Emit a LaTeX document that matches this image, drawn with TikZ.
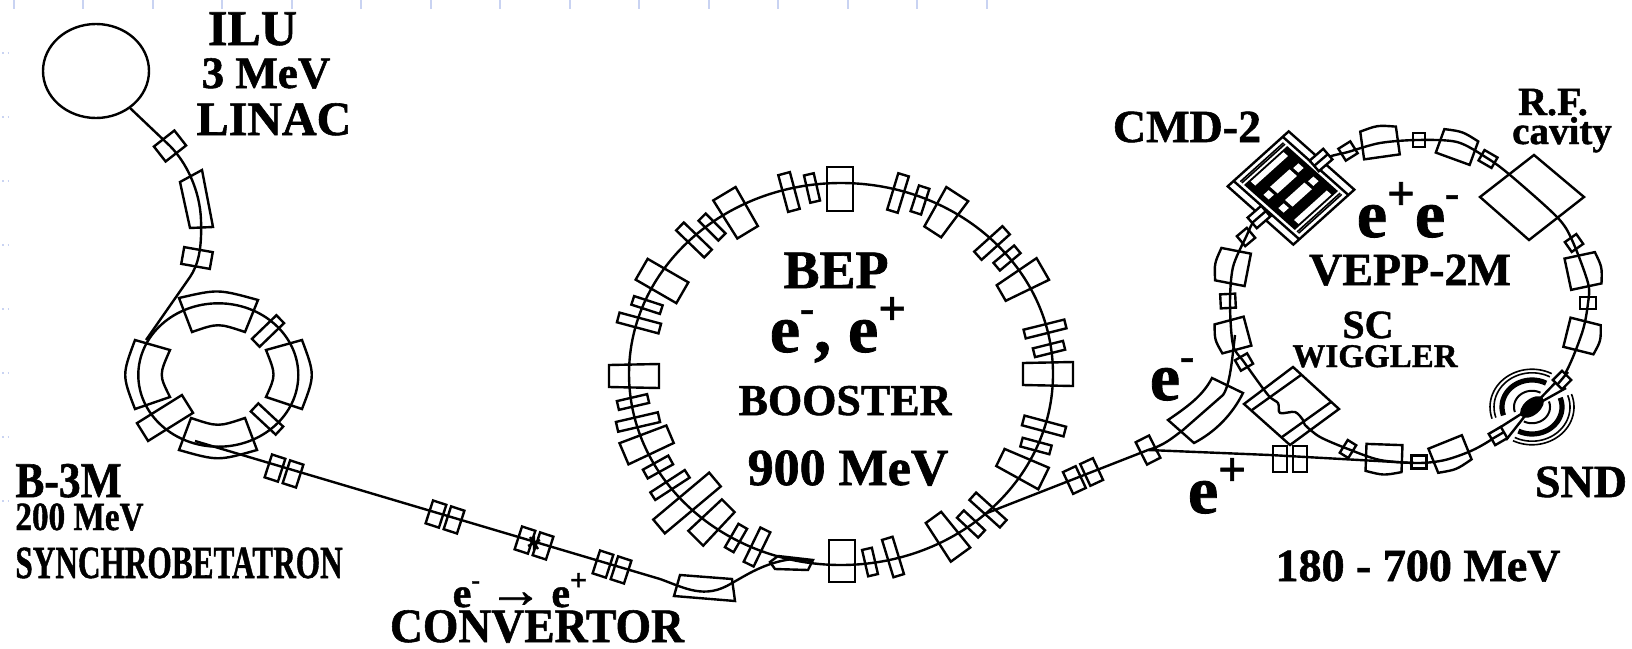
\documentclass[tikz,border=0pt]{standalone}
\usepackage{fontspec}
\setmainfont{Liberation Serif}[BoldFeatures={FakeBold=1.2}]
\usetikzlibrary{calc}
\definecolor{ticks}{HTML}{C9D3F2}
\newcommand\eminus{e\raisebox{.44em}{\scalebox{.62}{-}}}
\newcommand\eplus{e\raisebox{.4em}{\scalebox{.72}{+}}}
\tikzset{lab/.style={anchor=base,inner sep=0pt,font=\fontsize{#1}{#1}\selectfont\bfseries},
 beam/.style={line width=1.2pt,line join=round},
 magnet/.style={line width=1.2pt,line join=miter}}
\begin{document}
\begin{tikzpicture}[x=.5pt,y=-.5pt]
 \useasboundingbox(0,0)rectangle(1632,648);
 \foreach \tx in {14,83,153,222,292,361,431,500,570,639,709,778,848,917,987}\draw[ticks,line width=.6pt](\tx,0)--(\tx,9);
 \foreach \ty in {53,117,181,245,309,373,437,501}\draw[ticks,line width=.8pt,dotted](2,\ty)--(8,\ty);
 \draw[beam](96,71)ellipse[x radius=53,y radius=47];
 \draw[beam](130,108)--(170,146)..controls(186,162)and(200,190)..(201,220)..controls(202,250)and(198,265)..(190,277)--(153,330)--(146,340);
 \draw[magnet](180,182)--(202,170)--(213,227)--(190,228)--cycle;
 \draw[beam](218.3,375)ellipse[x radius=80,y radius=71.7];
 \draw[magnet](179,298)..controls(218,289)..(258,300)--(245,332)..controls(218,323)..(192,332)--cycle;
 \draw[magnet](179,450)..controls(218,461)..(257,450)--(245,418)..controls(218,427)..(191,418)--cycle;
 \draw[magnet](135,340)..controls(122,375)..(135,409)--(170,397)..controls(159,375)..(170,350)--cycle;
 \draw[magnet](302,340)..controls(315,375)..(302,409)--(266,397)..controls(276,375)..(266,350)--cycle;
 \foreach \px/\py/\rot/\wid/\hei in {170/146/128/19/26,197/258/-10/29/17,268/331/-46/11/34,267/419/47/11/34,165/418/-58/21/53}
  \draw[magnet,shift={(\px,\py)},rotate=\rot](-\wid/2,-\hei/2)rectangle(\wid/2,\hei/2);
 \draw[beam](195,441)--(660,579)..controls(685,588)and(705,600)..(732,583)..controls(745,576)and(765,562)..(793,559)--(812,561);
 \foreach \px/\py/\rot in {284/471/-18,445/517/-18,534/543/-18,612/567/-18,1083/476/25}
  \foreach \sgn in {-1,1}\draw[magnet,shift={(\px,\py)},rotate=\rot](\sgn*9.5-7,-12)rectangle(\sgn*9.5+7,12);
 \draw[magnet](530,537)--(538,549)(528,546)--(540,540)(534,536)--(534,550);
 \draw[magnet](680,575)--(732,579)--(735,601)--(674,596)--cycle;
 \draw[magnet](770,562)--(778,556)--(813,560)--(808,570)--(775,569)--cycle;
 \draw[beam](841,374)ellipse[x radius=212,y radius=191];
 \foreach \px/\py/\rot/\wid/\hei in {812/188/13/10/28,789/192/15/12/38,712/227/45/10/28,694/240/46/11/39,647/305/72/9/30,639/323/75/10/43,633/402/103/9/31,638/422/103/10/43,658/467/119/10/29,670/485/123/9/41,736/538/150/10/27,757/547/154/11/38,870/562/13/10/27,893/557/17/11/39,971/524/47/10/29,988/510/48/10/41,1036/446/75/9/30,1044/426/75/10/43,898/193/-17/11/38,920/200/-18/11/27,992/243/-48/11/38,1007/258/-50/10/27,1045/329/-76/9/42,1049/349/-76/9/31}
  \draw[magnet,shift={(\px,\py)},rotate=\rot](-\wid/2,-\hei/2)rectangle(\wid/2,\hei/2);
 \foreach \px/\py/\rot/\wo/\wi/\hei in {840/189/0/26/26/44,736/213/31/26/24/45,662/281/60/24/24/47,634/376/90/22/24/50,647/444/113/23/19/50,687/503/130/18/18/73,712/522/135/21/18/46,842/561/180/26/26/42,947/536/216/24/19/46,1022/468/244/24/19/48,1048/374/270/24/22/50,945/213/-33/26/20/45,1022/281/-60/25/18/48}
  \draw[magnet,shift={(\px,\py)},rotate=\rot](-\wo/2,-\hei/2)--(\wo/2,-\hei/2)--(\wi/2,\hei/2)--(-\wi/2,\hei/2)--cycle;
 \draw[beam](987,513)--(1148,450)--(1270,455)--(1413,463);
 \draw[beam](1148,450)..controls(1165,445)and(1172,438)..(1183,430)--(1223,395)..controls(1230,385)and(1232,360)..(1235,335);
 \draw[magnet](1168,420)..controls(1190,405)and(1203,395)..(1212,378)--(1243,393)..controls(1232,415)and(1215,432)..(1194,443)--cycle;
 \foreach \sgn in {-1,1}\draw[magnet](1290+\sgn*10-7,446)rectangle(1290+\sgn*10+7,472);
 \draw[beam]plot[smooth cycle]coordinates{(1417,140)(1457,142)(1487,158)(1510,175)(1557,217)(1572,240)(1588,283)(1588,303)(1582,333)(1563,377)(1532,407)(1498,435)(1473,450)(1445,460)(1418,463)(1380,460)(1348,449)(1320,437)(1305,425)(1303,420)(1295,412)(1280,413)(1278,403)(1268,395)(1244,362)(1233,345)(1230,303)(1233,267)(1246,237)(1257,217)(1290,188)(1322,160)(1348,152)(1380,143)};
 \foreach \px/\py/\rot/\wid/\hei in {1148/450/27/15/25,1348/151/32/14/14,1419/140/0/12/14,1488/159/-30/15/12,1574/243/35/14/12,1588/303/0/16/12,1419/462/0/15/13,1348/449/-32/10/15,1244/362/30/14/12,1228/301/3/15/14,1246/237/40/13/13}
  \draw[magnet,shift={(\px,\py)},rotate=\rot](-\wid/2,-\hei/2)rectangle(\wid/2,\hei/2);
 \foreach \px/\py/\rot/\wid/\hei in {1380/143/8/36/28,1457/147/-20/36/25,1583/271/-78/32/31,1582/336/-104/30/31,1450/454/202/36/26,1384/458/178/36/27,1233/335/105/30/30,1233/267/79/33/30}
  \draw[magnet,shift={(\px,\py)},rotate=\rot](-\wid/2,-\hei/2)..controls(0,-\hei/2-4)..(\wid/2,-\hei/2)--(\wid/2,\hei/2)--(-\wid/2,\hei/2)--cycle;
 \draw[magnet](1534,155)--(1584,197)--(1529,240)--(1480,197)--cycle;
 \draw[magnet](1293,367)--(1339,409)--(1290,445)--(1244,404)--cycle;
 \draw[magnet](1252,410)--(1301,375)(1282,437)--(1331,402);
 \begin{scope}[shift={(1291,188)},cm={.744,.67,-.746,.662,(0,0)}]
  \draw[magnet,fill=white](-41,-44)rectangle(41,44);
  \draw[magnet](-33,-44)--(-33,44)(33,-44)--(33,44);
  \fill(-29,-34)rectangle(29,34);
  \foreach \vv in {-39,-37,37,39}\draw[line width=.8pt](-29,\vv)--(29,\vv);
  \foreach \vv in {-29,29}\fill[white](-22,\vv-3)rectangle(22,\vv+3);
  \foreach \vv in {-10,10}{\fill[white](-13,\vv-5)rectangle(13,\vv+5);
   \foreach \uu in {-20,20}\fill[white](\uu-3.5,\vv-3.5)rectangle(\uu+3.5,\vv+3.5);}
 \end{scope}
 \foreach \px/\py in {1321/160,1259/217}\draw[magnet,fill=white,shift={(\px,\py)},rotate=41](-9,-7)rectangle(9,7);
 \draw[beam](1314,166)--(1328,154)(1252,223)--(1266,211);
 \fill[white](1532,407)--(1552,376)--(1568,392)--cycle;
 \fill[white](1532,407)--(1492,432)--(1508,445)--cycle;
 \foreach \rr/\lw in {42/.8,38/.8,30/2.6,18/1}{
  \draw[line width=\lw pt]plot[domain=62:198,samples=30]({1532+\rr*cos(\x)},{407-.9*\rr*sin(\x)});
  \draw[line width=\lw pt]plot[domain=243:380,samples=30]({1532+\rr*cos(\x)},{407-.9*\rr*sin(\x)});}
 \fill[shift={(1532,407)},rotate=40](0,0)ellipse[x radius=14,y radius=8];
 \draw[magnet](1532,407)--(1556,382)(1532,407)--(1566,388)(1532,407)--(1496,430)(1532,407)--(1506,440);
 \foreach \px/\py/\rot/\wid/\hei in {1562/380/-45/13/13,1498/436/30/14/13}
  \draw[magnet,fill=white,shift={(\px,\py)},rotate=\rot](-\wid/2,-\hei/2)rectangle(\wid/2,\hei/2);
 \draw[beam](1557,385)--(1568,372)(1504,432)--(1492,439);
 \node[lab=25](ilu)at(252.5,45){ILU};
 \node[lab=22.5](ilue)at(266,88){3 MeV};
 \node[lab=24](linac)at(274,135){LINAC};
 \node[lab=25,anchor=base west](bthree)at(15,497){\scalebox{.87}[1]{B-3M}};
 \node[lab=20,anchor=base west](btwo)at(15,530){\scalebox{.83}[1]{200 MeV}};
 \node[lab=23,anchor=base west](synchro)at(15,578){\scalebox{.68}[1]{SYNCHROBETATRON}};
 \node[lab=21](conv)at(520,607){\eminus\hspace{.2em}\scalebox{1.3}[1.2]{→}\hspace{.2em}\eplus};
 \node[lab=24](convertor)at(537,642){\scalebox{.95}[1]{CONVERTOR}};
 \node[lab=27](bep)at(836,288){BEP};
 \node[lab=34](bepe)at(838,352){\eminus, \eplus};
 \node[lab=22](booster)at(845,415){BOOSTER};
 \node[lab=26](bepen)at(848,485){900 MeV};
 \node[lab=23](cmd)at(1187,142){CMD-2};
 \node[lab=20](rf)at(1553,115){R.F.};
 \node[lab=19.5](cavity)at(1562,144){cavity};
 \node[lab=34](veppe)at(1408,237){\eplus\eminus};
 \node[lab=23](vepp)at(1410,285){VEPP-2M};
 \node[lab=20](sc)at(1368,338){SC};
 \node[lab=16.5](wiggler)at(1375,367){WIGGLER};
 \node[lab=34](eleft)at(1172,400){\eminus};
 \node[lab=34](eright)at(1217,513){\eplus};
 \node[lab=23](snd)at(1581,497){SND};
 \node[lab=23](veppen)at(1418,581){180 - 700 MeV};
\end{tikzpicture}
\end{document}
